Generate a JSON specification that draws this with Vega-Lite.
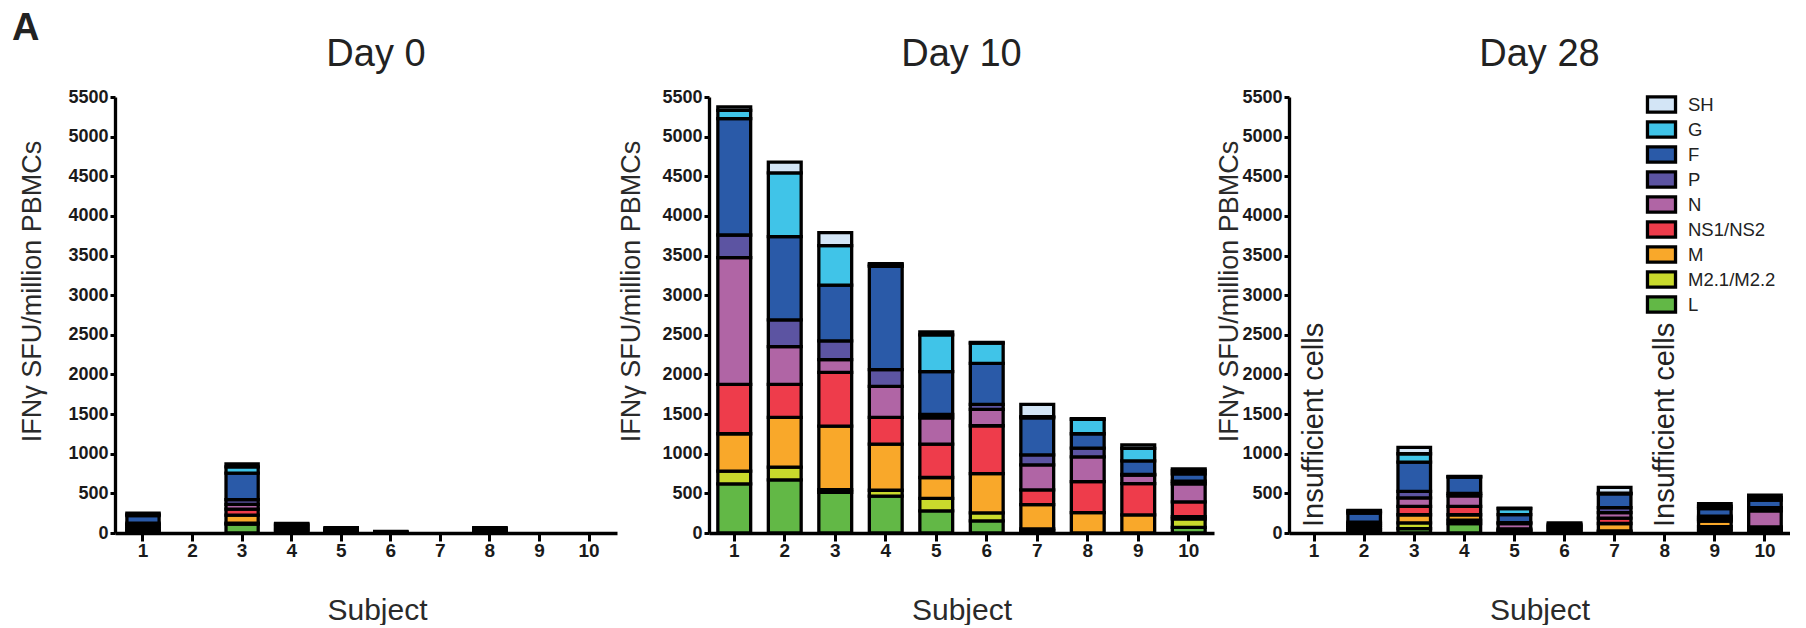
{
 "$schema": "https://vega.github.io/schema/vega-lite/v6.json",
 "background": "white",
 "padding": {"left": 12, "top": 10, "right": 0, "bottom": 0},
 "title": {"text": "A", "anchor": "start", "frame": "bounds", "fontSize": 38, "fontWeight": "bold", "color": "#222", "offset": -6, "dx": -6, "dy": 6},
 "spacing": 0,
 "resolve": {"scale": {"color": "independent"}, "legend": {"color": "independent"}},
 "datasets": {
  "bars": [
   {"d":0,"s":1,"g":"L","k":1,"v":20},{"d":0,"s":1,"g":"M2.1/M2.2","k":2,"v":20},{"d":0,"s":1,"g":"M","k":3,"v":20},{"d":0,"s":1,"g":"NS1/NS2","k":4,"v":25},{"d":0,"s":1,"g":"N","k":5,"v":20},{"d":0,"s":1,"g":"P","k":6,"v":20},{"d":0,"s":1,"g":"F","k":7,"v":94},{"d":0,"s":1,"g":"G","k":8,"v":16},{"d":0,"s":1,"g":"SH","k":9,"v":15},
   {"d":0,"s":3,"g":"L","k":1,"v":112},{"d":0,"s":3,"g":"M2.1/M2.2","k":2,"v":13},{"d":0,"s":3,"g":"M","k":3,"v":100},{"d":0,"s":3,"g":"NS1/NS2","k":4,"v":76},{"d":0,"s":3,"g":"N","k":5,"v":60},{"d":0,"s":3,"g":"P","k":6,"v":60},{"d":0,"s":3,"g":"F","k":7,"v":334},{"d":0,"s":3,"g":"G","k":8,"v":79},{"d":0,"s":3,"g":"SH","k":9,"v":39},
   {"d":0,"s":4,"g":"L","k":1,"v":15},{"d":0,"s":4,"g":"M2.1/M2.2","k":2,"v":15},{"d":0,"s":4,"g":"M","k":3,"v":15},{"d":0,"s":4,"g":"NS1/NS2","k":4,"v":15},{"d":0,"s":4,"g":"N","k":5,"v":15},{"d":0,"s":4,"g":"P","k":6,"v":15},{"d":0,"s":4,"g":"F","k":7,"v":15},{"d":0,"s":4,"g":"G","k":8,"v":10},{"d":0,"s":4,"g":"SH","k":9,"v":5},
   {"d":0,"s":5,"g":"L","k":1,"v":8},{"d":0,"s":5,"g":"M2.1/M2.2","k":2,"v":8},{"d":0,"s":5,"g":"M","k":3,"v":8},{"d":0,"s":5,"g":"NS1/NS2","k":4,"v":8},{"d":0,"s":5,"g":"N","k":5,"v":8},{"d":0,"s":5,"g":"P","k":6,"v":8},{"d":0,"s":5,"g":"F","k":7,"v":8},{"d":0,"s":5,"g":"G","k":8,"v":8},{"d":0,"s":5,"g":"SH","k":9,"v":5},
   {"d":0,"s":6,"g":"L","k":1,"v":5},{"d":0,"s":6,"g":"M","k":3,"v":5},{"d":0,"s":6,"g":"F","k":7,"v":5},{"d":0,"s":6,"g":"G","k":8,"v":5},
   {"d":0,"s":8,"g":"L","k":1,"v":8},{"d":0,"s":8,"g":"M2.1/M2.2","k":2,"v":8},{"d":0,"s":8,"g":"M","k":3,"v":8},{"d":0,"s":8,"g":"NS1/NS2","k":4,"v":8},{"d":0,"s":8,"g":"N","k":5,"v":8},{"d":0,"s":8,"g":"P","k":6,"v":8},{"d":0,"s":8,"g":"F","k":7,"v":8},{"d":0,"s":8,"g":"G","k":8,"v":8},{"d":0,"s":8,"g":"SH","k":9,"v":5},

   {"d":10,"s":1,"g":"L","k":1,"v":620},{"d":10,"s":1,"g":"M2.1/M2.2","k":2,"v":160},{"d":10,"s":1,"g":"M","k":3,"v":472},{"d":10,"s":1,"g":"NS1/NS2","k":4,"v":624},{"d":10,"s":1,"g":"N","k":5,"v":1597},{"d":10,"s":1,"g":"P","k":6,"v":286},{"d":10,"s":1,"g":"F","k":7,"v":1467},{"d":10,"s":1,"g":"G","k":8,"v":105},{"d":10,"s":1,"g":"SH","k":9,"v":45},
   {"d":10,"s":2,"g":"L","k":1,"v":670},{"d":10,"s":2,"g":"M2.1/M2.2","k":2,"v":160},{"d":10,"s":2,"g":"M","k":3,"v":628},{"d":10,"s":2,"g":"NS1/NS2","k":4,"v":418},{"d":10,"s":2,"g":"N","k":5,"v":476},{"d":10,"s":2,"g":"P","k":6,"v":337},{"d":10,"s":2,"g":"F","k":7,"v":1049},{"d":10,"s":2,"g":"G","k":8,"v":805},{"d":10,"s":2,"g":"SH","k":9,"v":135},
   {"d":10,"s":3,"g":"L","k":1,"v":514},{"d":10,"s":3,"g":"M2.1/M2.2","k":2,"v":34},{"d":10,"s":3,"g":"M","k":3,"v":801},{"d":10,"s":3,"g":"NS1/NS2","k":4,"v":678},{"d":10,"s":3,"g":"N","k":5,"v":161},{"d":10,"s":3,"g":"P","k":6,"v":236},{"d":10,"s":3,"g":"F","k":7,"v":703},{"d":10,"s":3,"g":"G","k":8,"v":498},{"d":10,"s":3,"g":"SH","k":9,"v":164},
   {"d":10,"s":4,"g":"L","k":1,"v":464},{"d":10,"s":4,"g":"M2.1/M2.2","k":2,"v":75},{"d":10,"s":4,"g":"M","k":3,"v":582},{"d":10,"s":4,"g":"NS1/NS2","k":4,"v":337},{"d":10,"s":4,"g":"N","k":5,"v":392},{"d":10,"s":4,"g":"P","k":6,"v":211},{"d":10,"s":4,"g":"F","k":7,"v":1302},{"d":10,"s":4,"g":"G","k":8,"v":20},{"d":10,"s":4,"g":"SH","k":9,"v":14},
   {"d":10,"s":5,"g":"L","k":1,"v":278},{"d":10,"s":5,"g":"M2.1/M2.2","k":2,"v":160},{"d":10,"s":5,"g":"M","k":3,"v":262},{"d":10,"s":5,"g":"NS1/NS2","k":4,"v":421},{"d":10,"s":5,"g":"N","k":5,"v":333},{"d":10,"s":5,"g":"P","k":6,"v":42},{"d":10,"s":5,"g":"F","k":7,"v":540},{"d":10,"s":5,"g":"G","k":8,"v":463},{"d":10,"s":5,"g":"SH","k":9,"v":38},
   {"d":10,"s":6,"g":"L","k":1,"v":152},{"d":10,"s":6,"g":"M2.1/M2.2","k":2,"v":101},{"d":10,"s":6,"g":"M","k":3,"v":497},{"d":10,"s":6,"g":"NS1/NS2","k":4,"v":603},{"d":10,"s":6,"g":"N","k":5,"v":206},{"d":10,"s":6,"g":"P","k":6,"v":64},{"d":10,"s":6,"g":"F","k":7,"v":518},{"d":10,"s":6,"g":"G","k":8,"v":253},{"d":10,"s":6,"g":"SH","k":9,"v":10},
   {"d":10,"s":7,"g":"L","k":1,"v":30},{"d":10,"s":7,"g":"M2.1/M2.2","k":2,"v":21},{"d":10,"s":7,"g":"M","k":3,"v":307},{"d":10,"s":7,"g":"NS1/NS2","k":4,"v":186},{"d":10,"s":7,"g":"N","k":5,"v":316},{"d":10,"s":7,"g":"P","k":6,"v":126},{"d":10,"s":7,"g":"F","k":7,"v":468},{"d":10,"s":7,"g":"G","k":8,"v":13},{"d":10,"s":7,"g":"SH","k":9,"v":156},
   {"d":10,"s":8,"g":"M","k":3,"v":257},{"d":10,"s":8,"g":"NS1/NS2","k":4,"v":392},{"d":10,"s":8,"g":"N","k":5,"v":312},{"d":10,"s":8,"g":"P","k":6,"v":110},{"d":10,"s":8,"g":"F","k":7,"v":181},{"d":10,"s":8,"g":"G","k":8,"v":181},{"d":10,"s":8,"g":"SH","k":9,"v":8},
   {"d":10,"s":9,"g":"M","k":3,"v":228},{"d":10,"s":9,"g":"NS1/NS2","k":4,"v":396},{"d":10,"s":9,"g":"N","k":5,"v":105},{"d":10,"s":9,"g":"P","k":6,"v":10},{"d":10,"s":9,"g":"F","k":7,"v":172},{"d":10,"s":9,"g":"G","k":8,"v":156},{"d":10,"s":9,"g":"SH","k":9,"v":45},
   {"d":10,"s":10,"g":"L","k":1,"v":72},{"d":10,"s":10,"g":"M2.1/M2.2","k":2,"v":105},{"d":10,"s":10,"g":"M","k":3,"v":30},{"d":10,"s":10,"g":"NS1/NS2","k":4,"v":185},{"d":10,"s":10,"g":"N","k":5,"v":228},{"d":10,"s":10,"g":"P","k":6,"v":33},{"d":10,"s":10,"g":"F","k":7,"v":93},{"d":10,"s":10,"g":"G","k":8,"v":40},{"d":10,"s":10,"g":"SH","k":9,"v":23},

   {"d":28,"s":2,"g":"L","k":1,"v":25},{"d":28,"s":2,"g":"M2.1/M2.2","k":2,"v":20},{"d":28,"s":2,"g":"M","k":3,"v":25},{"d":28,"s":2,"g":"NS1/NS2","k":4,"v":22},{"d":28,"s":2,"g":"N","k":5,"v":25},{"d":28,"s":2,"g":"P","k":6,"v":20},{"d":28,"s":2,"g":"F","k":7,"v":115},{"d":28,"s":2,"g":"G","k":8,"v":20},{"d":28,"s":2,"g":"SH","k":9,"v":14},
   {"d":28,"s":3,"g":"L","k":1,"v":56},{"d":28,"s":3,"g":"M2.1/M2.2","k":2,"v":72},{"d":28,"s":3,"g":"M","k":3,"v":102},{"d":28,"s":3,"g":"NS1/NS2","k":4,"v":107},{"d":28,"s":3,"g":"N","k":5,"v":107},{"d":28,"s":3,"g":"P","k":6,"v":81},{"d":28,"s":3,"g":"F","k":7,"v":370},{"d":28,"s":3,"g":"G","k":8,"v":105},{"d":28,"s":3,"g":"SH","k":9,"v":80},
   {"d":28,"s":4,"g":"L","k":1,"v":120},{"d":28,"s":4,"g":"M2.1/M2.2","k":2,"v":42},{"d":28,"s":4,"g":"M","k":3,"v":68},{"d":28,"s":4,"g":"NS1/NS2","k":4,"v":107},{"d":28,"s":4,"g":"N","k":5,"v":133},{"d":28,"s":4,"g":"P","k":6,"v":30},{"d":28,"s":4,"g":"F","k":7,"v":205},{"d":28,"s":4,"g":"G","k":8,"v":5},{"d":28,"s":4,"g":"SH","k":9,"v":3},
   {"d":28,"s":5,"g":"L","k":1,"v":13},{"d":28,"s":5,"g":"M2.1/M2.2","k":2,"v":13},{"d":28,"s":5,"g":"M","k":3,"v":13},{"d":28,"s":5,"g":"NS1/NS2","k":4,"v":12},{"d":28,"s":5,"g":"N","k":5,"v":69},{"d":28,"s":5,"g":"P","k":6,"v":12},{"d":28,"s":5,"g":"F","k":7,"v":100},{"d":28,"s":5,"g":"G","k":8,"v":75},{"d":28,"s":5,"g":"SH","k":9,"v":5},
   {"d":28,"s":6,"g":"L","k":1,"v":14},{"d":28,"s":6,"g":"M2.1/M2.2","k":2,"v":14},{"d":28,"s":6,"g":"M","k":3,"v":14},{"d":28,"s":6,"g":"NS1/NS2","k":4,"v":14},{"d":28,"s":6,"g":"N","k":5,"v":14},{"d":28,"s":6,"g":"P","k":6,"v":14},{"d":28,"s":6,"g":"F","k":7,"v":14},{"d":28,"s":6,"g":"G","k":8,"v":14},{"d":28,"s":6,"g":"SH","k":9,"v":14},
   {"d":28,"s":7,"g":"L","k":1,"v":13},{"d":28,"s":7,"g":"M2.1/M2.2","k":2,"v":13},{"d":28,"s":7,"g":"M","k":3,"v":94},{"d":28,"s":7,"g":"NS1/NS2","k":4,"v":68},{"d":28,"s":7,"g":"N","k":5,"v":68},{"d":28,"s":7,"g":"P","k":6,"v":64},{"d":28,"s":7,"g":"F","k":7,"v":175},{"d":28,"s":7,"g":"G","k":8,"v":9},{"d":28,"s":7,"g":"SH","k":9,"v":72},
   {"d":28,"s":9,"g":"L","k":1,"v":40},{"d":28,"s":9,"g":"M2.1/M2.2","k":2,"v":41},{"d":28,"s":9,"g":"M","k":3,"v":68},{"d":28,"s":9,"g":"NS1/NS2","k":4,"v":21},{"d":28,"s":9,"g":"N","k":5,"v":21},{"d":28,"s":9,"g":"P","k":6,"v":22},{"d":28,"s":9,"g":"F","k":7,"v":94},{"d":28,"s":9,"g":"G","k":8,"v":32},{"d":28,"s":9,"g":"SH","k":9,"v":32},
   {"d":28,"s":10,"g":"L","k":1,"v":20},{"d":28,"s":10,"g":"M2.1/M2.2","k":2,"v":19},{"d":28,"s":10,"g":"M","k":3,"v":19},{"d":28,"s":10,"g":"NS1/NS2","k":4,"v":19},{"d":28,"s":10,"g":"N","k":5,"v":201},{"d":28,"s":10,"g":"P","k":6,"v":42},{"d":28,"s":10,"g":"F","k":7,"v":94},{"d":28,"s":10,"g":"G","k":8,"v":32},{"d":28,"s":10,"g":"SH","k":9,"v":32}
  ],
  "notes": [
   {"d":28,"s":1,"note":"Insufficient cells"},
   {"d":28,"s":8,"note":"Insufficient cells"}
  ]
 },
 "hconcat": [
  {
   "width": 502, "height": 436,
   "title": {"text": "Day 0", "fontSize": 38, "fontWeight": "normal", "color": "#222", "frame": "group", "offset": 14, "dx": 10},
   "data": {"name": "bars"},
   "transform": [{"filter": {"field": "d", "equal": 0}}],
   "mark": {"type": "bar", "stroke": "black", "strokeWidth": 3.3},
   "encoding": {
    "x": {"field": "s", "type": "ordinal", "scale": {"domain": [1,2,3,4,5,6,7,8,9,10], "paddingInner": 0.35, "paddingOuter": 0.24}, "axis": {"title": "Subject", "titleX": 262}},
    "y": {"field": "v", "type": "quantitative", "stack": "zero", "scale": {"domain": [0, 5500], "nice": false}, "axis": {"title": "IFNγ SFU/million PBMCs", "format": "d", "values": [0,500,1000,1500,2000,2500,3000,3500,4000,4500,5000,5500], "titleX": -83, "titleY": 194}},
    "color": {"field": "g", "type": "nominal", "scale": {"domain": ["L","M2.1/M2.2","M","NS1/NS2","N","P","F","G","SH"], "range": ["#62b846","#c9da2c","#f9a82a","#ee3c4b","#b065a5","#5c54a2","#2a5aa8","#40c4e8","#d3e5f6"]}, "legend": null},
    "order": {"field": "k", "type": "quantitative"}
   }
  },
  {
   "width": 505, "height": 436,
   "title": {"text": "Day 10", "fontSize": 38, "fontWeight": "normal", "color": "#222", "frame": "group", "offset": 14},
   "data": {"name": "bars"},
   "transform": [{"filter": {"field": "d", "equal": 10}}],
   "mark": {"type": "bar", "stroke": "black", "strokeWidth": 3.3},
   "encoding": {
    "x": {"field": "s", "type": "ordinal", "scale": {"domain": [1,2,3,4,5,6,7,8,9,10], "paddingInner": 0.35, "paddingOuter": 0.175}, "axis": {"title": "Subject"}},
    "y": {"field": "v", "type": "quantitative", "stack": "zero", "scale": {"domain": [0, 5500], "nice": false}, "axis": {"title": "IFNγ SFU/million PBMCs", "format": "d", "values": [0,500,1000,1500,2000,2500,3000,3500,4000,4500,5000,5500], "titleX": -78, "titleY": 194}},
    "color": {"field": "g", "type": "nominal", "scale": {"domain": ["L","M2.1/M2.2","M","NS1/NS2","N","P","F","G","SH"], "range": ["#62b846","#c9da2c","#f9a82a","#ee3c4b","#b065a5","#5c54a2","#2a5aa8","#40c4e8","#d3e5f6"]}, "legend": null},
    "order": {"field": "k", "type": "quantitative"}
   }
  },
  {
   "width": 501, "height": 436,
   "title": {"text": "Day 28", "fontSize": 38, "fontWeight": "normal", "color": "#222", "frame": "group", "offset": 14},
   "layer": [
    {
     "data": {"name": "bars"},
     "transform": [{"filter": {"field": "d", "equal": 28}}],
     "mark": {"type": "bar", "stroke": "black", "strokeWidth": 3.3},
     "encoding": {
      "x": {"field": "s", "type": "ordinal", "scale": {"domain": [1,2,3,4,5,6,7,8,9,10], "paddingInner": 0.35, "paddingOuter": 0.175}, "axis": {"title": "Subject"}},
      "y": {"field": "v", "type": "quantitative", "stack": "zero", "scale": {"domain": [0, 5500], "nice": false}, "axis": {"title": "IFNγ SFU/million PBMCs", "format": "d", "values": [0,500,1000,1500,2000,2500,3000,3500,4000,4500,5000,5500], "titleX": -60, "titleY": 194}},
      "color": {"field": "g", "type": "nominal", "scale": {"domain": ["L","M2.1/M2.2","M","NS1/NS2","N","P","F","G","SH"], "range": ["#62b846","#c9da2c","#f9a82a","#ee3c4b","#b065a5","#5c54a2","#2a5aa8","#40c4e8","#d3e5f6"]},
       "legend": {"orient": "none", "legendX": 362, "legendY": -3, "title": null, "values": ["SH","G","F","P","N","NS1/NS2","M","M2.1/M2.2","L"], "symbolType": "M-1.65,-0.9H1.65V0.9H-1.65Z", "symbolSize": 289, "symbolStrokeColor": "black", "symbolStrokeWidth": 3.3, "symbolOpacity": 1, "labelFontSize": 18.5, "labelColor": "#222", "labelOffset": 16, "rowPadding": -9.2, "padding": 0}},
      "order": {"field": "k", "type": "quantitative"}
     }
    },
    {
     "data": {"name": "notes"},
     "mark": {"type": "text", "angle": 270, "align": "left", "baseline": "middle", "fontSize": 29, "color": "#222", "dx": 6},
     "encoding": {
      "x": {"field": "s", "type": "ordinal", "axis": {"title": "Subject"}},
      "y": {"datum": 0, "type": "quantitative", "axis": {"title": "IFNγ SFU/million PBMCs", "format": "d", "values": [0,500,1000,1500,2000,2500,3000,3500,4000,4500,5000,5500], "titleX": -60, "titleY": 194}},
      "text": {"field": "note"}
     }
    }
   ]
  }
 ],
 "config": {
  "font": "Liberation Sans",
  "view": {"stroke": null},
  "axis": {"grid": false, "domainColor": "black", "domainWidth": 3.3, "tickColor": "black", "tickWidth": 3, "labelColor": "#1a1a1a", "labelFontWeight": "bold", "titleFontWeight": "normal", "titleColor": "#2a2a2a", "labelFont": "Liberation Sans", "titleFont": "Liberation Sans"},
  "axisX": {"tickSize": 8, "labelFontSize": 19, "labelPadding": 0, "labelAngle": 0, "titleFontSize": 30, "titlePadding": 35},
  "axisY": {"tickSize": 5, "labelFontSize": 18, "labelPadding": 2, "titleFontSize": 27, "titleAngle": 270, "titleAlign": "center", "titleBaseline": "middle"}
 }
}
